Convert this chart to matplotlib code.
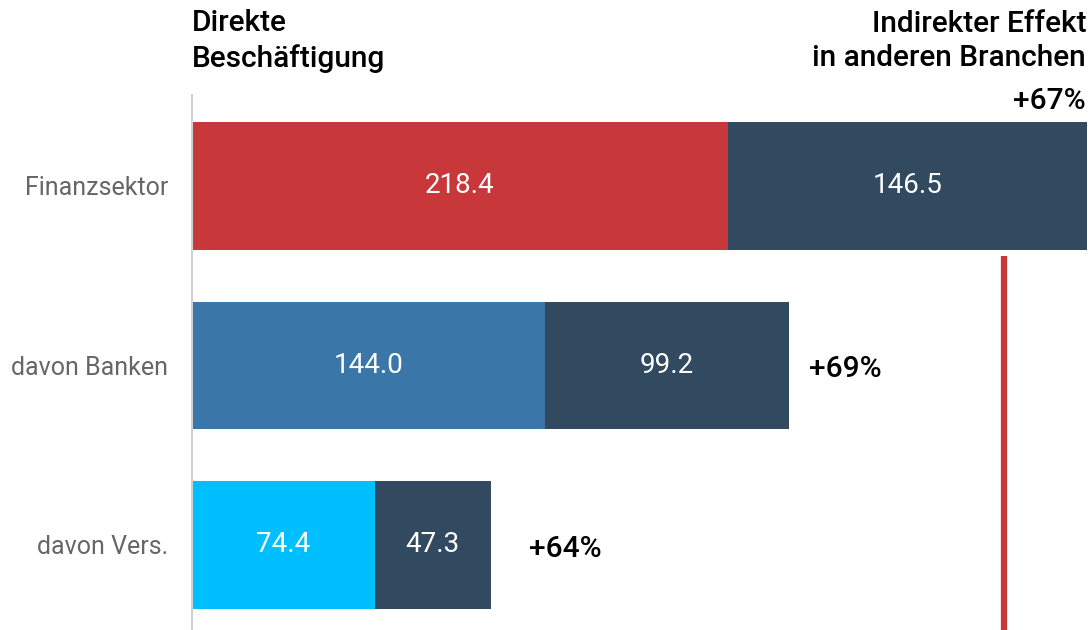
import matplotlib.pyplot as plt

plt.rcParams["font.family"] = ["Roboto", "DejaVu Sans"]

categories = ["Finanzsektor", "davon Banken", "davon Vers."]
direct = [218.4, 144.0, 74.4]
indirect = [146.5, 99.2, 47.3]
direct_colors = ["#C8373A", "#3A77A8", "#00BFFF"]
indirect_color = "#324A60"
effect_labels = ["+67%", "+69%", "+64%"]
effect_x = [None, 251.5, 137.4]
ref_line_x = 331.0

fig = plt.figure(figsize=(10.91, 6.30), dpi=100)
ax = fig.add_axes([192 / 1091, 0, 897 / 1091, 535 / 630])

y = list(range(len(categories)))
ax.barh(y, direct, height=0.71, color=direct_colors, edgecolor="none")
ax.barh(y, indirect, left=direct, height=0.71, color=indirect_color, edgecolor="none")

for i in y:
    ax.text(direct[i] / 2, i, f"{direct[i]:.1f}", color="white", fontsize=20,
            ha="center", va="center")
    ax.text(direct[i] + indirect[i] / 2, i, f"{indirect[i]:.1f}", color="white",
            fontsize=20, ha="center", va="center")
    if effect_x[i] is not None:
        ax.text(effect_x[i], i + 0.02, effect_labels[i], fontsize=21.5,
                fontweight="medium", ha="left", va="center")

ax.set_xlim(0, 365.6)
ax.set_ylim(2.474, -0.507)
ax.vlines(ref_line_x, 0.39, 2.474, color="#C8373A", linewidth=4.5)

ax.set_yticks(y)
ax.set_yticklabels(categories, fontsize=18, color="#666666")
ax.tick_params(axis="y", length=0, pad=17)
ax.set_xticks([])
for side in ["top", "right", "bottom"]:
    ax.spines[side].set_visible(False)
ax.spines["left"].set_color("#d0d0d0")
ax.spines["left"].set_linewidth(1.5)

fig.text(192 / 1091, 1 - 41 / 630, "Direkte\nBeschäftigung", fontsize=21.5,
         fontweight="medium", ha="left", va="center", linespacing=1.3)
fig.text(1086 / 1091, 1 - 41 / 630, "Indirekter Effekt\nin anderen Branchen",
         fontsize=21.5, fontweight="medium", ha="right", va="center", linespacing=1.3)
fig.text(1086 / 1091, 1 - 101 / 630, effect_labels[0], fontsize=21.5,
         fontweight="medium", ha="right", va="center")

fig.savefig("out.png", dpi=100)
